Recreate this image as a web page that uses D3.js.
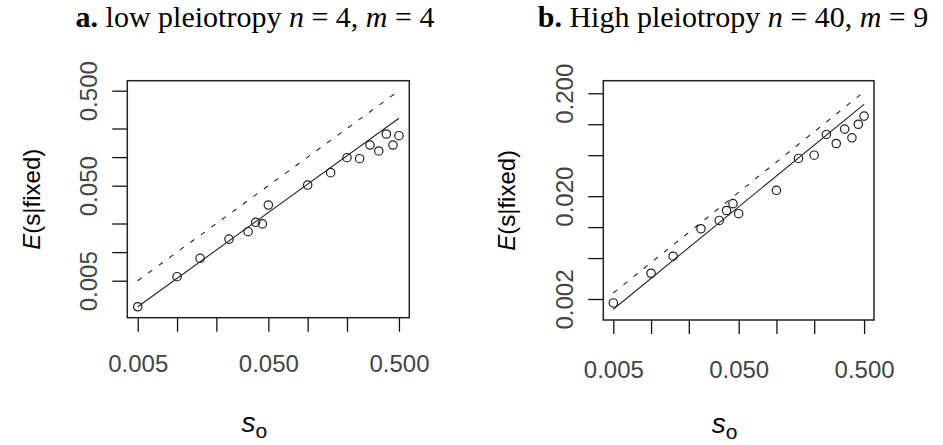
<!DOCTYPE html>
<html>
<head>
<meta charset="utf-8">
<script src="https://cdn.jsdelivr.net/npm/d3@7"></script>
<style>
  body { margin: 0; background: #fff; }
  text { white-space: pre; }
</style>
</head>
<body>
<div id="chart"></div>
<script>
// selection coefficients on the x axis (same for both panels)
const sValues = [0.005, 0.01, 0.015, 0.025, 0.035, 0.04, 0.045, 0.05, 0.1, 0.15, 0.2, 0.25, 0.3, 0.35, 0.4, 0.45, 0.5];

// simulated E(s|fixed)
const lowFixed  = [0.00266, 0.00551, 0.00861, 0.0137, 0.0164, 0.0206, 0.0198, 0.0313, 0.0508, 0.0686, 0.0986, 0.0962, 0.134, 0.116, 0.175, 0.134, 0.168];
const highFixed = [0.00183, 0.00356, 0.00521, 0.00964, 0.0116, 0.0145, 0.0169, 0.0135, 0.0228, 0.0465, 0.050, 0.0796, 0.065, 0.0897, 0.0738, 0.100, 0.120];

// prediction lines (solid) and dashed reference lines
const lineS      = [0.005, 0.5];
const lowSolid   = [0.00266, 0.256];
const lowDashed  = [0.005, 0.5];
const highSolid  = [0.00159, 0.156];
const highDashed = [0.00229, 0.207];

// axis limits
const xLim     = [0.00416, 0.600];
const lowYLim  = [0.00204, 0.637];
const highYLim = [0.00125, 0.265];

// ticks
const xTicks        = [0.005, 0.01, 0.02, 0.05, 0.1, 0.2, 0.5];
const xTickLabels   = [0.005, 0.05, 0.5];
const lowYTicks     = [0.005, 0.01, 0.02, 0.05, 0.1, 0.2, 0.5];
const lowYLabels    = [0.005, 0.05, 0.5];
const highYTicks    = [0.002, 0.005, 0.01, 0.02, 0.05, 0.1, 0.2];
const highYLabels   = [0.002, 0.02, 0.2];

const svg = d3.select("#chart")
    .append("svg")
        .attr("width", 943)
        .attr("height", 445)
        .style("font-family", "'Liberation Sans', Arial, sans-serif");

svg.append("rect").attr("width", 943).attr("height", 445).attr("fill", "#fff");

function drawPanel(p) {
    let width = p.right - p.left;
    let height = p.bottom - p.top;

    let g = svg.append("g")
        .attr("transform", "translate(" + p.left + "," + p.top + ")");

    // scales
    let x = d3.scaleLog().domain(xLim).range([0, width]);
    let y = d3.scaleLog().domain(p.yLim).range([height, 0]);

    // X axis
    let xAxis = g.append("g")
        .attr("transform", "translate(0," + height + ")")
        .call(d3.axisBottom(x)
            .tickValues(xTicks)
            .tickSize(14)
            .tickFormat(function(d) { return xTickLabels.includes(d) ? d3.format(".3f")(d) : ""; }));
    xAxis.select(".domain").remove();
    xAxis.selectAll("line").attr("stroke", "#111").attr("stroke-width", 1.3);
    xAxis.selectAll("text")
        .attr("y", p.xLabelY)
        .attr("dy", 0)
        .attr("fill", "#444")
        .style("font-size", "24px");

    // Y axis
    let yAxis = g.append("g")
        .call(d3.axisLeft(y)
            .tickValues(p.yTicks)
            .tickSize(15)
            .tickFormat(function(d) { return p.yLabels.includes(d) ? d3.format(".3f")(d) : ""; }));
    yAxis.select(".domain").remove();
    yAxis.selectAll("line").attr("stroke", "#111").attr("stroke-width", 1.3);
    yAxis.selectAll("text")
        .attr("transform", "rotate(-90)")
        .attr("x", 0)
        .attr("y", -30)
        .attr("dy", 0)
        .attr("text-anchor", "middle")
        .attr("fill", "#444")
        .style("font-size", "24px");

    // box
    g.append("rect")
        .attr("width", width)
        .attr("height", height)
        .attr("fill", "none")
        .attr("stroke", "#222")
        .attr("stroke-width", 1.5);

    let line = d3.line()
        .x(function(d) { return x(d[0]); })
        .y(function(d) { return y(d[1]); });

    g.append("path")
        .datum(d3.zip(lineS, p.dashed))
        .attr("d", line)
        .attr("fill", "none")
        .attr("stroke", "#222")
        .attr("stroke-width", 1.1)
        .attr("stroke-dasharray", "5,8");

    g.append("path")
        .datum(d3.zip(lineS, p.solid))
        .attr("d", line)
        .attr("fill", "none")
        .attr("stroke", "#222")
        .attr("stroke-width", 1.1);

    // points
    g.selectAll("circle.pt")
        .data(d3.zip(sValues, p.fixed))
        .enter()
        .append("circle")
        .attr("class", "pt")
        .attr("cx", function(d) { return x(d[0]); })
        .attr("cy", function(d) { return y(d[1]); })
        .attr("r", 4.2)
        .attr("fill", "none")
        .attr("stroke", "#222")
        .attr("stroke-width", 1.2);

    // Y axis label
    let yl = svg.append("text")
        .attr("transform", "translate(" + p.yTitleX + "," + (p.top + height / 2) + ") rotate(-90)")
        .attr("text-anchor", "middle")
        .style("font-size", "24px");
    yl.append("tspan").style("font-style", "italic").text("E");
    yl.append("tspan").text("(s|fixed)");

    // X axis label
    let xl = svg.append("text")
        .attr("x", p.left + width / 2 - 14)
        .attr("y", p.xTitleY)
        .attr("text-anchor", "middle")
        .style("font-size", "28px");
    xl.append("tspan").style("font-style", "italic").text("s");
    xl.append("tspan").attr("dy", 6).style("font-size", "21px").text("o");

    // title
    let t = svg.append("text")
        .attr("x", p.titleX)
        .attr("y", 27)
        .attr("text-anchor", "middle")
        .style("font-family", "'Liberation Serif', 'Times New Roman', serif")
        .style("font-size", "30px");
    t.append("tspan").style("font-weight", "bold").text(p.title[0]);
    t.append("tspan").text(p.title[1]);
    t.append("tspan").style("font-style", "italic").text("n");
    t.append("tspan").text(p.title[2]);
    t.append("tspan").style("font-style", "italic").text("m");
    t.append("tspan").text(p.title[3]);
}

drawPanel({
    left: 127.3, right: 409.3, top: 80.7, bottom: 317.7,
    yLim: lowYLim, yTicks: lowYTicks, yLabels: lowYLabels,
    fixed: lowFixed, solid: lowSolid, dashed: lowDashed,
    xLabelY: 54, yTitleX: 40, xTitleY: 432, titleX: 255,
    title: ["a.", " low pleiotropy ", " = 4, ", " = 4"]
});

drawPanel({
    left: 603.3, right: 874, top: 80.7, bottom: 320,
    yLim: highYLim, yTicks: highYTicks, yLabels: highYLabels,
    fixed: highFixed, solid: highSolid, dashed: highDashed,
    xLabelY: 58, yTitleX: 515, xTitleY: 433, titleX: 733,
    title: ["b.", " High pleiotropy ", " = 40, ", " = 9"]
});
</script>
</body>
</html>
